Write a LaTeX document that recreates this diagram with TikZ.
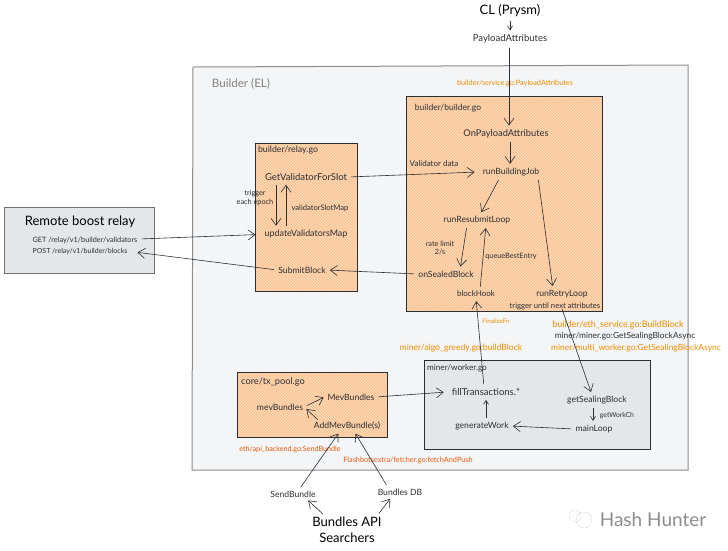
\documentclass[tikz,border=0pt]{standalone}
\usepackage{fontspec}
\setmainfont{Lato}
\usetikzlibrary{arrows.meta,patterns}
\definecolor{inkcol}{HTML}{2B2F33}
\definecolor{orangelabel}{HTML}{F08C00}
\definecolor{redlabel}{HTML}{E8590C}
\definecolor{orangefill}{HTML}{FBC596}
\definecolor{panelfill}{HTML}{F3F5F7}
\definecolor{workerfill}{HTML}{E4E7EA}
\newcommand{\fsize}[1]{\fontsize{#1}{#1}\selectfont}
\tikzset{
  panel/.style={draw=black!45,line width=1pt,fill=panelfill},
  hatchbox/.style={draw=inkcol,line width=0.9pt,preaction={fill=orangefill},pattern=north west lines,pattern color=white!45!orangefill},
  greybox/.style={draw=inkcol,line width=0.9pt,fill=workerfill},
  fn/.style={text=inkcol,font=\fsize{8.6},inner sep=1pt},
  note/.style={text=inkcol,font=\fontsize{7.3}{8.4}\selectfont,inner sep=1pt,align=center},
  big/.style={text=black,font=\fontsize{13}{16}\selectfont,inner sep=1pt,align=center},
  olabel/.style={text=orangelabel,font=\fsize{7.3},inner sep=1pt},
  rlabel/.style={text=redlabel,font=\fsize{7.2},inner sep=1pt},
  conv/.style={-{Straight Barb[length=7pt,width=10pt]},draw=inkcol,line width=0.6pt,shorten >=3pt,shorten <=3pt},
  small conv/.style={-{Straight Barb[length=4pt,width=5pt]},draw=inkcol,line width=0.6pt,shorten >=3pt,shorten <=3pt}
}
\begin{document}
\begin{tikzpicture}[x=1pt,y=-1pt]
  \useasboundingbox (0,0) rectangle (728,550);
  % Boxes
  \draw[panel] (193,67) -- (688,65) -- (688,470) -- (192,470) -- cycle;
  \draw[greybox,draw=black!55] (4,207) rectangle (154,273);
  \draw[hatchbox] (255,143) rectangle (357,291);
  \draw[hatchbox] (406,96) rectangle (602,311);
  \draw[hatchbox] (237,372) rectangle (387,437);
  \draw[greybox] (424,360) rectangle (650,449);
  \node[text=black!50,font=\fsize{11.6}] (elTitle) at (241,84) {Builder (EL)};

  % Consensus side
  \node[big] (clNode) at (510,11) {CL (Prysm)};
  \node[fn,font=\fsize{9.5}] (payloadAttr) at (510,39) {PayloadAttributes};
  \node[olabel] (serviceLabel) at (515,83) {builder/service.go:PayloadAttributes};

  % Relay
  \node[big] (remoteRelay) at (80,222) {Remote boost relay};
  \node[note] (getValidators) at (85,240) {GET /relay/v1/builder/validators};
  \node[note,font=\fsize{7}] (postBlocks) at (80,252) {POST /relay/v1/builder/blocks};
  \node[fn,font=\fsize{8.8}] (relayFile) at (288,150) {builder/relay.go};
  \node[fn,font=\fsize{9.5}] (getValidator) at (306,177) {GetValidatorForSlot};
  \node[note] (triggerEpoch) at (255,198) {trigger\\each epoch};
  \node[note,font=\fsize{7.6}] (slotMap) at (320,208) {validatorSlotMap};
  \node[fn,font=\fsize{8.9}] (updateValidators) at (306,234) {updateValidatorsMap};
  \node[fn] (submitBlock) at (302,270) {SubmitBlock};

  % Builder
  \node[fn,font=\fsize{8.5}] (builderFile) at (448,108) {builder/builder.go};
  \node[fn,font=\fsize{9.3}] (onPayload) at (506,134) {OnPayloadAttributes};
  \node[note,font=\fsize{8}] (validatorData) at (434,164) {Validator data};
  \node[fn] (runBuilding) at (511,172) {runBuildingJob};
  \node[fn] (runResubmit) at (477,220) {runResubmitLoop};
  \node[note] (rateLimit) at (440,248) {rate limit\\2/s};
  \node[note] (queueBest) at (511,257) {queueBestEntry};
  \node[fn] (onSealed) at (446,274) {onSealedBlock};
  \node[fn,font=\fsize{8}] (blockHook) at (476,294) {blockHook};
  \node[fn] (runRetry) at (562,294) {runRetryLoop};
  \node[note,font=\fsize{7.7}] (triggerNext) at (555,306) {trigger until next attributes};

  % Labels between builder and worker
  \node[olabel,font=\fsize{6.2}] (finalizeFn) at (496,321) {FinalizeFn};
  \node[olabel,font=\fsize{8.6}] (algoLabel) at (461,348) {miner/algo\_greedy.go:buildBlock};
  \node[olabel,font=\fsize{9}] (ethLabel) at (618,325) {builder/eth\_service.go:BuildBlock};
  \node[fn,font=\fsize{8.4}] (minerLabel) at (625,336) {miner/miner.go:GetSealingBlockAsync};
  \node[olabel,font=\fsize{8.5}] (multiLabel) at (636,348) {miner/multi\_worker.go:GetSealingBlockAsync};

  % Worker
  \node[fn,font=\fsize{8.2}] (workerFile) at (457,368) {miner/worker.go};
  \node[fn,font=\fsize{9.5}] (fillTx) at (486,392) {fillTransactions.*};
  \node[fn] (getSealing) at (597,400) {getSealingBlock};
  \node[note,font=\fsize{6.8}] (workCh) at (617,416) {getWorkCh};
  \node[fn] (generateWork) at (482,426) {generateWork};
  \node[fn] (mainLoop) at (594,429) {mainLoop};

  % Tx pool
  \node[fn,font=\fsize{9.2}] (poolFile) at (273,382) {core/tx\_pool.go};
  \node[fn] (mevBundles) at (280,407) {mevBundles};
  \node[fn] (mevBundlesUp) at (351,397) {MevBundles};
  \node[fn] (addMev) at (347,426) {AddMevBundle(s)};
  \node[rlabel] (sendLabel) at (290,449) {eth/api\_backend.go:SendBundle};
  \node[rlabel,font=\fsize{7.3}] (fetchLabel) at (408,460) {Flashbotsextra/fetcher.go:fetchAndPush};

  % Searchers
  \node[fn] (sendBundle) at (293,494) {SendBundle};
  \node[fn] (bundlesDb) at (400,492) {Bundles DB};
  \node[big] (bundlesApi) at (347,530) {Bundles API\\Searchers};

  % Watermark
  \node[text=black!45,font=\fsize{19}] (hashHunter) at (653,520) {Hash Hunter};
  \draw[black!40,densely dotted] (575,516) circle (6) (584,520) circle (8);

  % Consensus arrows
  \draw[small conv] (clNode) -- (payloadAttr);
  \draw[conv] ([xshift=-1]payloadAttr.south) -- ([xshift=3]onPayload.north);
  \draw[conv] ([xshift=4]onPayload.south) -- ([xshift=-1]runBuilding.north);

  % Relay arrows
  \draw[conv] ([yshift=1]getValidators.east) -- ([xshift=-5,yshift=-0.5]updateValidators.west);
  \draw[conv] (submitBlock.west) -- ([xshift=6]postBlocks.east);
  \draw[conv] ([xshift=-30]getValidator.south) -- ([xshift=-30]updateValidators.north);
  \draw[conv] ([xshift=-20]updateValidators.north) -- ([xshift=-20]getValidator.south);
  \draw[conv] (getValidator.east) -- ([xshift=-4]runBuilding.west);
  \draw[conv] (onSealed.west) -- (submitBlock.east);

  % Builder arrows
  \draw[conv] ([xshift=-11]runBuilding.south) -- ([xshift=3]runResubmit.north);
  \draw[conv] ([xshift=27]runBuilding.south) -- ([xshift=-9]runRetry.north);
  \draw[conv] ([xshift=-10]runResubmit.south) -- ([xshift=14]onSealed.north);
  \draw[conv] ([xshift=4]blockHook.north) -- ([xshift=9]runResubmit.south);

  % Worker arrows
  \draw[conv] ([xshift=-2]fillTx.north) -- (blockHook.south);
  \draw[conv] ([xshift=6]triggerNext.center) -- ([xshift=-5]getSealing.north);
  \draw[small conv] ([xshift=-4]getSealing.south) -- ([xshift=-1]mainLoop.north);
  \draw[conv] (mainLoop.west) -- (generateWork.east);
  \draw[small conv] ([xshift=4]generateWork.north) -- (fillTx.south);

  % Tx pool arrows
  \draw[conv] (mevBundles.east) -- ([yshift=1]mevBundlesUp.west);
  \draw[conv] ([xshift=-27,yshift=-1]addMev.north) -- (mevBundles.east);
  \draw[conv] (mevBundlesUp.east) -- ([xshift=-4]fillTx.west);
  \draw[conv] ([xshift=6]sendBundle.north) -- ([xshift=-7]addMev.south);
  \draw[conv] ([xshift=-12]bundlesDb.north) -- ([xshift=7]addMev.south);
  \draw[conv] ([xshift=-22]bundlesApi.north) -- ([xshift=13]sendBundle.south);
  \draw[conv] ([xshift=30]bundlesApi.north) -- ([xshift=-8]bundlesDb.south);
\end{tikzpicture}
\end{document}
